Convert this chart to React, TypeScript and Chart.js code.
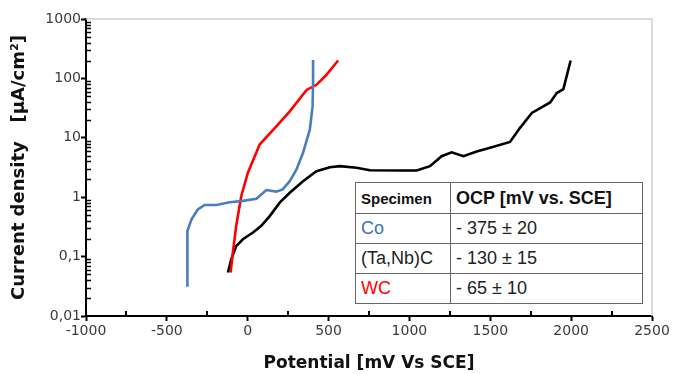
import React, { useEffect, useRef } from "react";
import { Chart, registerables } from "chart.js";

Chart.register(...registerables);

// Co (blue)
const coPotential = [-373, -373, -348, -309, -266, -194, -112, -40, 54, 84, 115, 177, 216, 260, 301, 342, 384, 401, 404, 404];
const coCurrent = [0.031, 0.27, 0.42, 0.62, 0.74, 0.74, 0.82, 0.86, 0.94, 1.11, 1.32, 1.24, 1.35, 1.86, 2.9, 5.6, 13.7, 33.8, 83, 205];

// WC (red)
const wcPotential = [-106, -92, -71, -40, 1, 74, 177, 260, 364, 425, 487, 559];
const wcCurrent = [0.054, 0.117, 0.33, 1.04, 2.58, 7.7, 15.6, 27.9, 64, 78, 115, 200];

// (Ta,Nb)C (black)
const tanbPotential = [-122, -102, -71, -30, 33, 84, 136, 198, 260, 342, 425, 508, 570, 673, 756, 942, 1045, 1127, 1199, 1261, 1334, 1416, 1499, 1622, 1684, 1757, 1870, 1911, 1952, 1997];
const tanbCurrent = [0.054, 0.09, 0.15, 0.196, 0.254, 0.33, 0.48, 0.81, 1.19, 1.86, 2.74, 3.2, 3.33, 3.13, 2.85, 2.82, 2.82, 3.33, 4.9, 5.7, 4.9, 5.9, 6.8, 8.5, 14.7, 26.2, 39.4, 56.7, 66, 200];

const yMajorTicks = [0.01, 0.1, 1, 10, 100, 1000];
const yTickLabels = ["0,01", "0,1", "1", "10", "100", "1000"];
const xMin = -1000;
const xMax = 2500;
const xStep = 500;

const tableHeader = ["Specimen", "OCP [mV vs. SCE]"];
const tableSpecimens = ["Co", "(Ta,Nb)C", "WC"];
const tableOCP = ["- 375 ± 20", "- 130 ± 15", "- 65 ± 10"];
const tableColors = ["#3f6fb5", "#222222", "#ff0000"];

const toPoints = (xs: number[], ys: number[]) => xs.map((x, i) => ({ x, y: ys[i] }));

const decorPlugin = {
  id: "decor",
  afterDatasetsDraw(chart: any) {
    const { ctx, chartArea, scales } = chart;
    const { left, right, top, bottom } = chartArea;
    ctx.save();
    ctx.strokeStyle = "#cfcfcf";
    ctx.lineWidth = 1.5;
    ctx.beginPath();
    ctx.moveTo(left, top);
    ctx.lineTo(right, top);
    ctx.lineTo(right, bottom);
    ctx.stroke();
    ctx.strokeStyle = "#000";
    ctx.lineWidth = 1.5;
    const y = scales.y;
    for (let d = -2; d < 3; d++) {
      for (let k = 2; k <= 9; k++) {
        const v = k * Math.pow(10, d);
        const py = Math.round(y.getPixelForValue(v)) + 0.5;
        ctx.beginPath();
        ctx.moveTo(left, py);
        ctx.lineTo(left + 5, py);
        ctx.stroke();
      }
    }
    const x = scales.x;
    ctx.lineWidth = 2;
    for (let v = xMin + xStep / 2; v < xMax; v += xStep) {
      const px = Math.round(x.getPixelForValue(v));
      ctx.beginPath();
      ctx.moveTo(px, bottom);
      ctx.lineTo(px, bottom - 5);
      ctx.stroke();
    }
    ctx.restore();
  },
};

export default function App() {
  const canvasRef = useRef<HTMLCanvasElement | null>(null);

  useEffect(() => {
    if (!canvasRef.current) return;
    const chart = new Chart(canvasRef.current, {
      type: "scatter",
      data: {
        datasets: [
          {
            label: "Co",
            data: toPoints(coPotential, coCurrent),
            showLine: true,
            borderColor: "#4a7ebb",
            borderWidth: 2.6,
            pointRadius: 0,
            tension: 0,
          },
          {
            label: "WC",
            data: toPoints(wcPotential, wcCurrent),
            showLine: true,
            borderColor: "#ff0000",
            borderWidth: 2.6,
            pointRadius: 0,
            tension: 0,
          },
          {
            label: "(Ta,Nb)C",
            data: toPoints(tanbPotential, tanbCurrent),
            showLine: true,
            borderColor: "#000000",
            borderWidth: 2.6,
            pointRadius: 0,
            tension: 0,
          },
        ],
      },
      options: {
        animation: false,
        responsive: false,
        maintainAspectRatio: false,
        layout: { padding: { left: 0, top: 19, right: 22, bottom: 0 } },
        plugins: {
          legend: { display: false },
          tooltip: { enabled: false },
        },
        scales: {
          x: {
            type: "linear",
            min: xMin,
            max: xMax,
            ticks: {
              stepSize: xStep,
              color: "#3a3a3a",
              font: { family: "DejaVu Sans", size: 14 },
              padding: 2,
              maxRotation: 0,
              callback: (value: any) => String(value),
            },
            grid: {
              drawOnChartArea: false,
              drawTicks: true,
              tickLength: 5,
              tickColor: "#000",
              tickWidth: 2,
            },
            border: { color: "#000", width: 2 },
            title: {
              display: true,
              text: "Potential [mV Vs SCE]",
              color: "#111",
              font: { family: "DejaVu Sans", size: 17, weight: "bold" },
              padding: { top: 7, bottom: 0 },
            },
            afterFit(scale: any) {
              scale.height = 58;
            },
          },
          y: {
            type: "logarithmic",
            min: 0.01,
            max: 1000,
            afterBuildTicks(scale: any) {
              scale.ticks = yMajorTicks.map((v) => ({ value: v }));
            },
            ticks: {
              color: "#3a3a3a",
              font: { family: "DejaVu Sans", size: 14 },
              padding: 0,
              callback: (value: any) => {
                const i = yMajorTicks.findIndex((t) => Math.abs(t - Number(value)) / t < 1e-6);
                return i >= 0 ? yTickLabels[i] : "";
              },
            },
            grid: {
              drawOnChartArea: false,
              drawTicks: true,
              tickLength: 5,
              tickColor: "#000",
              tickWidth: 2,
            },
            border: { color: "#000", width: 2 },
            title: {
              display: true,
              text: "Current density   [µA/cm²]",
              color: "#111",
              font: { family: "DejaVu Sans", size: 18, weight: "bold" },
              padding: { top: 9, bottom: 0 },
            },
            afterFit(scale: any) {
              scale.width = 86;
            },
          },
        },
      },
      plugins: [decorPlugin],
    });
    return () => chart.destroy();
  }, []);

  const cellBase: React.CSSProperties = {
    border: "1.5px solid #666",
    padding: "0 0 0 5px",
    fontFamily: "'Liberation Sans', Arial, sans-serif",
    textAlign: "left",
    verticalAlign: "middle",
    whiteSpace: "nowrap",
    overflow: "hidden",
  };

  return (
    <div style={{ position: "fixed", left: 0, top: 0, width: 674, height: 374, background: "#fff" }}>
      <canvas ref={canvasRef} width={674} height={374} style={{ display: "block" }} />
      <table
        style={{
          position: "absolute",
          left: 355,
          top: 182,
          width: 287,
          height: 121,
          borderCollapse: "collapse",
          background: "#fff",
          tableLayout: "fixed",
        }}
      >
        <colgroup>
          <col style={{ width: 95 }} />
          <col style={{ width: 192 }} />
        </colgroup>
        <tbody>
          <tr style={{ height: 31 }}>
            <td style={{ ...cellBase, fontWeight: "bold", fontSize: 15, color: "#111" }}>{tableHeader[0]}</td>
            <td style={{ ...cellBase, fontWeight: "bold", fontSize: 18, color: "#111" }}>{tableHeader[1]}</td>
          </tr>
          {tableSpecimens.map((s, i) => (
            <tr key={s} style={{ height: 30 }}>
              <td style={{ ...cellBase, fontSize: 18, color: tableColors[i] }}>{s}</td>
              <td style={{ ...cellBase, fontSize: 18, color: "#222" }}>{tableOCP[i]}</td>
            </tr>
          ))}
        </tbody>
      </table>
    </div>
  );
}
